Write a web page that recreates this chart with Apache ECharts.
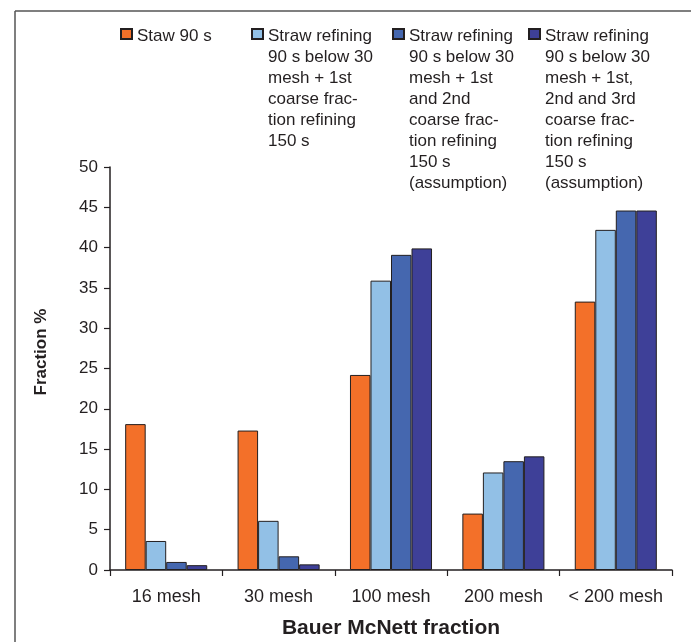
<!DOCTYPE html>
<html>
<head>
<meta charset="utf-8">
<script src="https://cdn.jsdelivr.net/npm/echarts@6/dist/echarts.min.js"></script>
<style>
html,body{margin:0;padding:0;background:#fff;}
#chart{width:691px;height:642px;}
</style>
</head>
<body>
<div id="chart"></div>
<script>
const categories = ['16 mesh', '30 mesh', '100 mesh', '200 mesh', '< 200 mesh'];
const seriesNames = [
  'Staw 90 s',
  'Straw refining 90 s below 30 mesh + 1st coarse fraction refining 150 s',
  'Straw refining 90 s below 30 mesh + 1st and 2nd coarse fraction refining 150 s (assumption)',
  'Straw refining 90 s below 30 mesh + 1st, 2nd and 3rd coarse fraction refining 150 s (assumption)'
];
const legendLines = [
  ['Staw 90 s'],
  ['Straw refining', '90 s below 30', 'mesh + 1st', 'coarse frac-', 'tion refining', '150 s'],
  ['Straw refining', '90 s below 30', 'mesh + 1st', 'and 2nd', 'coarse frac-', 'tion refining', '150 s', '(assumption)'],
  ['Straw refining', '90 s below 30', 'mesh + 1st,', '2nd and 3rd', 'coarse frac-', 'tion refining', '150 s', '(assumption)']
];
const staw90 = [18.1, 17.3, 24.2, 7.0, 33.3];
const refine1 = [3.6, 6.1, 35.9, 12.1, 42.2];
const refine12 = [1.0, 1.7, 39.1, 13.5, 44.6];
const refine123 = [0.6, 0.7, 39.9, 14.1, 44.6];
const yTicks = [0, 5, 10, 15, 20, 25, 30, 35, 40, 45, 50];

const colors = ['#F37029', '#92C0E6', '#4567AF', '#3E4098'];
const seriesData = [staw90, refine1, refine12, refine123];
const legendLeft = [120, 251, 392, 528];
const LH = 21;

const chart = echarts.init(document.getElementById('chart'), null, {renderer: 'canvas'});
const font = '"Liberation Sans", Arial, Helvetica, sans-serif';

function legendFor(i) {
  const n = legendLines[i].length;
  const H = n * LH;
  // tall icon box: small square drawn at the top, invisible extent down to H
  const icon = 'path://M0,0 M11,' + H + ' M0,3 L11,3 L11,13 L0,13 Z';
  return {
    data: [seriesNames[i]],
    left: legendLeft[i],
    top: 25,
    padding: 0,
    itemWidth: 11,
    itemHeight: H,
    selectedMode: false,
    icon: icon,
    formatter: () => legendLines[i].join('\n'),
    textStyle: {fontFamily: font, fontSize: 17, color: '#231F20', lineHeight: LH}
  };
}

const option = {
  animation: false,
  backgroundColor: '#fff',
  textStyle: {fontFamily: font, color: '#231F20'},
  grid: {left: 110, right: 19, top: 167, bottom: 72, containLabel: false, outerBoundsMode: 'none'},
  legend: seriesNames.map((n, i) => legendFor(i)),
  xAxis: {
    type: 'category',
    data: categories,
    name: 'Bauer McNett fraction',
    nameLocation: 'middle',
    nameGap: 48,
    nameTextStyle: {fontFamily: font, fontSize: 21, fontWeight: 'bold', color: '#231F20'},
    axisLine: {lineStyle: {color: '#231F20', width: 1.5}},
    axisTick: {show: true, length: 6, lineStyle: {color: '#231F20', width: 1.2}},
    axisLabel: {fontFamily: font, fontSize: 18, color: '#231F20', margin: 18, interval: 0}
  },
  yAxis: {
    type: 'value',
    min: 0, max: 50, interval: 5,
    name: 'Fraction %',
    nameLocation: 'middle',
    nameGap: 60,
    nameTextStyle: {fontFamily: font, fontSize: 17, fontWeight: 'bold', color: '#231F20', padding: [0, 0, 0, 33]},
    axisLine: {show: true, lineStyle: {color: '#231F20', width: 1.5}},
    axisTick: {show: true, length: 6, lineStyle: {color: '#231F20', width: 1.2}},
    splitLine: {show: false},
    axisLabel: {fontFamily: font, fontSize: 17, color: '#231F20', margin: 12,
      formatter: v => yTicks.includes(v) ? String(v) : ''}
  },
  series: seriesNames.map((n, i) => ({
    name: n,
    type: 'bar',
    data: seriesData[i],
    barGap: '0%',
    barCategoryGap: '27%',
    itemStyle: {color: colors[i], borderColor: '#231F20', borderWidth: 1}
  })),
  graphic: [
    {type: 'line', shape: {x1: 15, y1: 11, x2: 691, y2: 11}, style: {stroke: '#555', lineWidth: 1.5}, silent: true},
    {type: 'line', shape: {x1: 15, y1: 11, x2: 15, y2: 642}, style: {stroke: '#555', lineWidth: 1.5}, silent: true}
  ]
};
chart.setOption(option);
</script>
</body>
</html>
